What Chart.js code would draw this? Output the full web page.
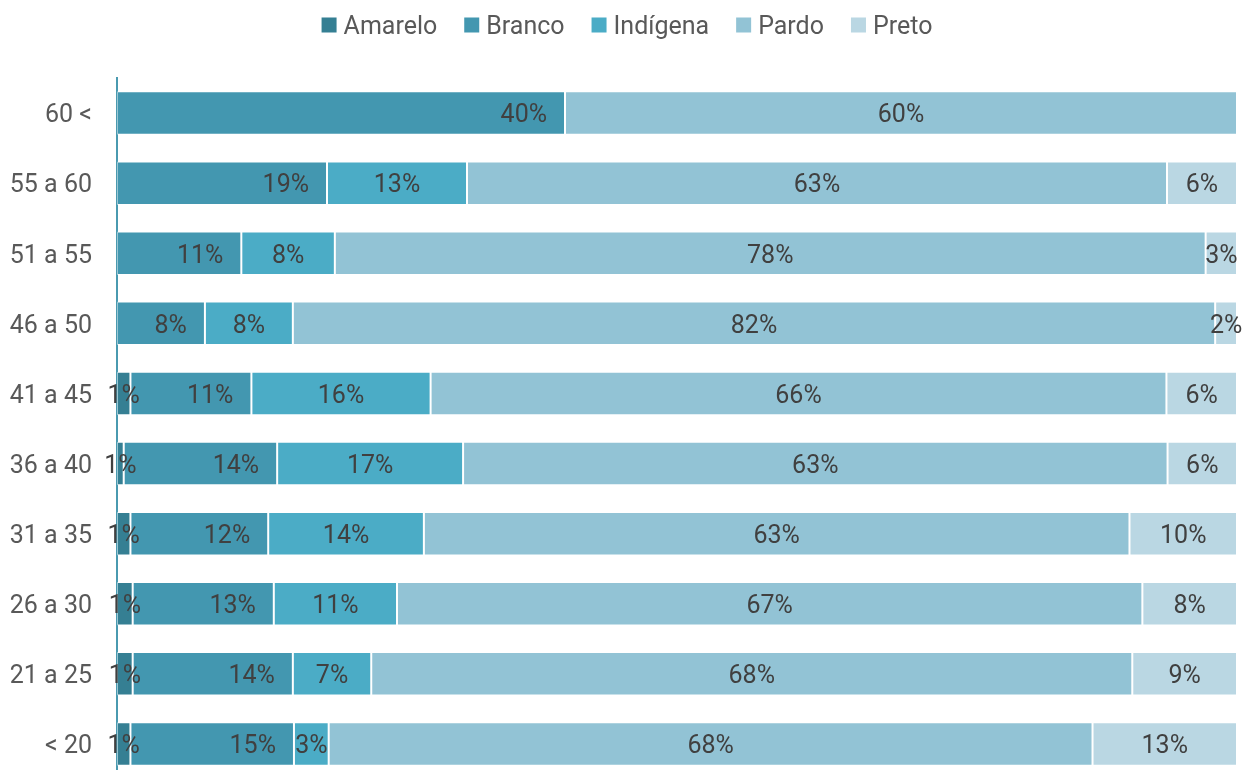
<!DOCTYPE html>
<html>
<head>
<meta charset="utf-8">
<script src="https://cdn.jsdelivr.net/npm/chart.js@4"></script>
<style>
  html, body { margin: 0; padding: 0; background: #fff; overflow: hidden; }
  #wrap { width: 1242px; height: 779px; }
</style>
</head>
<body>
<div id="wrap"><canvas id="chart" width="1242" height="779"></canvas></div>
<script>
// faixas etárias e percentuais por cor/raça
const categories = ['60 <', '55 a 60', '51 a 55', '46 a 50', '41 a 45', '36 a 40', '31 a 35', '26 a 30', '21 a 25', '< 20'];
const amarelo  = [0, 0, 0, 0, 1.2, 0.6, 1.2, 1.4, 1.4, 1.2];
const branco   = [40, 18.75, 11.1, 7.85, 10.8, 13.7, 12.3, 12.6, 14.3, 14.6];
const indigena = [0, 12.5, 8.35, 7.85, 16.0, 16.6, 13.9, 11.0, 7.0, 3.1];
const pardo    = [60, 62.5, 77.75, 82.35, 65.7, 62.9, 63.0, 66.55, 67.95, 68.2];
const preto    = [0, 6.25, 2.8, 1.95, 6.3, 6.2, 9.6, 8.45, 9.35, 12.9];

const FONT = 'Roboto, "Noto Sans", sans-serif';

const series = [
    { label: 'Amarelo',  data: amarelo,  color: '#357f93' },
    { label: 'Branco',   data: branco,   color: '#4397b0' },
    { label: 'Indígena', data: indigena, color: '#4bacc6' },
    { label: 'Pardo',    data: pardo,    color: '#92c3d5' },
    { label: 'Preto',    data: preto,    color: '#bad7e3' }
];

// rótulos de porcentagem em cada segmento
const barLabels = {
    id: 'barLabels',
    afterDatasetsDraw(chart) {
        const ctx = chart.ctx;
        ctx.save();
        ctx.font = '25px ' + FONT;
        ctx.fillStyle = '#404040';
        ctx.textBaseline = 'middle';
        chart.data.datasets.forEach((ds, di) => {
            const meta = chart.getDatasetMeta(di);
            meta.data.forEach((bar, i) => {
                const v = ds.data[i];
                if (!v) return;
                const txt = Math.round(v) + '%';
                if (ds.label === 'Branco') {
                    ctx.textAlign = 'right';
                    ctx.fillText(txt, bar.x - 18, bar.y + 3);
                } else {
                    ctx.textAlign = 'center';
                    ctx.fillText(txt, (bar.x + bar.base) / 2, bar.y + 3);
                }
            });
        });
        ctx.restore();
    }
};

// legenda no topo
const topLegend = {
    id: 'topLegend',
    afterDraw(chart) {
        const ctx = chart.ctx;
        ctx.save();
        ctx.font = '25px ' + FONT;
        ctx.textBaseline = 'middle';
        ctx.textAlign = 'left';
        const box = 15, gapText = 7, gapItem = 27;
        const widths = chart.data.datasets.map(ds => box + gapText + ctx.measureText(ds.label).width);
        const total = widths.reduce((s, w) => s + w, 0) + gapItem * (widths.length - 1);
        let x = 627 - total / 2;
        const y = 25;
        chart.data.datasets.forEach((ds, i) => {
            ctx.fillStyle = ds.backgroundColor;
            ctx.fillRect(x, y - box / 2, box, box);
            ctx.fillStyle = '#595959';
            ctx.fillText(ds.label, x + box + gapText, y + 3);
            x += widths[i] + gapItem;
        });
        ctx.restore();
    }
};

new Chart(document.getElementById('chart'), {
    type: 'bar',
    data: {
        labels: categories,
        datasets: series.map(s => ({
            label: s.label,
            data: s.data,
            backgroundColor: s.color,
            borderColor: 'rgba(255,255,255,0.45)',
            borderWidth: 1,
            borderSkipped: false,
            barPercentage: 0.62,
            categoryPercentage: 1
        }))
    },
    options: {
        indexAxis: 'y',
        responsive: false,
        animation: false,
        layout: { padding: { top: 78, right: 5, left: 0, bottom: 0 } },
        plugins: {
            legend: { display: false },
            tooltip: { enabled: false }
        },
        scales: {
            x: {
                stacked: true,
                display: false,
                min: 0,
                max: 100
            },
            y: {
                stacked: true,
                grid: { display: false },
                border: { display: true, color: '#4a9ab0', width: 2 },
                ticks: {
                    color: '#595959',
                    padding: 17,
                    labelOffset: 3,
                    font: { family: FONT, size: 25 }
                },
                afterFit(scale) {
                    scale.width = 117;
                    scale.paddingTop = 0;
                    scale.paddingBottom = 0;
                }
            }
        }
    },
    plugins: [barLabels, topLegend]
});
</script>
</body>
</html>
